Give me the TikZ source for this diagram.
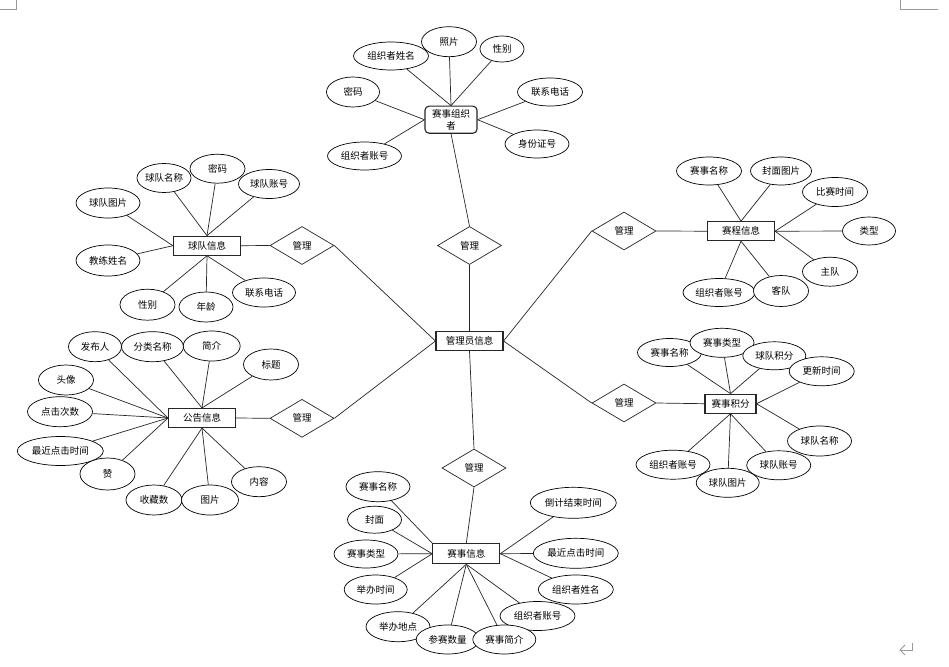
\documentclass[tikz,border=0pt]{standalone}
\usepackage{fontspec}
\newfontfamily\cjk{Noto Sans CJK SC}
\usetikzlibrary{shapes.geometric,backgrounds}
\tikzset{
  every node/.style={font=\cjk\fontsize{9.5}{11.5}\selectfont, inner sep=0pt},
  attr/.style={ellipse, draw=black, line width=0.7pt, fill=white},
  ent/.style={rectangle, draw=black!85, line width=1.1pt, fill=white, minimum width=67pt, minimum height=19pt},
  rel/.style={diamond, draw=black!85, line width=0.7pt, fill=white, minimum width=64pt, minimum height=38pt},
  link/.style={draw=black!85, line width=0.7pt},
  pagemark/.style={draw=black!40, line width=0.8pt}
}
\newcommand\attnode[5]{\node[attr, minimum width=#4pt, minimum height=#5pt] (#1) at (#2) {#3};}
\begin{document}
\begin{tikzpicture}[x=1pt,y=-1pt]
\useasboundingbox (0,0) rectangle (949,666);

% central entity and relations
\node[ent] (adm) at (469.5,341) {管理员信息};
\node[rel] (r1) at (469.5,245.5) {管理};
\node[rel] (r2) at (302,245.5) {管理};
\node[rel] (r3) at (302,418.3) {管理};
\node[rel] (r4) at (474,468) {管理};
\node[rel] (r5) at (624,231) {管理};
\node[rel] (r6) at (624,403) {管理};

% organizer
\node[rectangle, rounded corners=4pt, draw=black!85, line width=1.1pt, fill=white, minimum width=52pt, minimum height=27pt, align=center] (org) at (451,119.7) {赛事组织\\者};
\attnode{o1}{391,56}{组织者姓名}{75}{28}
\attnode{o2}{449,41.7}{照片}{55}{30}
\attnode{o3}{502,49}{性别}{44}{26}
\attnode{o4}{353,92}{密码}{53}{30}
\attnode{o5}{550,92}{联系电话}{65}{28}
\attnode{o6}{537,144}{身份证号}{64}{28}
\attnode{o7}{364.5,156}{组织者账号}{74}{28}

% team
\node[ent] (team) at (207,245.7) {球队信息};
\attnode{t1}{164,178}{球队名称}{54}{29}
\attnode{t2}{217.5,168.7}{密码}{55}{29}
\attnode{t3}{269,184}{球队账号}{61}{29}
\attnode{t4}{108,203}{球队图片}{64}{30}
\attnode{t5}{108,260.5}{教练姓名}{64}{31}
\attnode{t6}{147.5,304.7}{性别}{55}{31}
\attnode{t7}{206,307}{年龄}{54}{30}
\attnode{t8}{264,292.5}{联系电话}{63}{29}

% schedule
\node[ent] (sch) at (741,231.2) {赛程信息};
\attnode{s1}{709,171}{赛事名称}{65}{28}
\attnode{s2}{781,171}{封面图片}{61}{28}
\attnode{s3}{835,192}{比赛时间}{65}{29}
\attnode{s4}{869,231}{类型}{53}{28}
\attnode{s5}{830,271.7}{主队}{55}{29}
\attnode{s6}{719,292.5}{组织者账号}{72}{28}
\attnode{s7}{781,291}{客队}{55}{31}

% announcement
\node[ent] (ann) at (202,418) {公告信息};
\attnode{a1}{95,346.7}{发布人}{53}{30}
\attnode{a2}{152.5,346.7}{分类名称}{62}{30}
\attnode{a3}{211.7,346}{简介}{57}{30}
\attnode{a4}{271,364.5}{标题}{55}{31}
\attnode{a5}{66,380}{头像}{55}{30}
\attnode{a6}{60,411.7}{点击次数}{65}{30}
\attnode{a7}{60.3,451}{最近点击时间}{86}{29}
\attnode{a8}{107.5,474}{赞}{55}{32}
\attnode{a9}{154,500}{收藏数}{56}{30}
\attnode{a10}{210,500}{图片}{57}{30}
\attnode{a11}{259,481.7}{内容}{55}{30}

% score
\node[ent, minimum width=51pt] (sc) at (730.5,403.7) {赛事积分};
\attnode{c1}{669.5,352.5}{赛事名称}{64}{28}
\attnode{c2}{722,342.8}{赛事类型}{64}{29}
\attnode{c3}{774.3,355.8}{球队积分}{63}{28}
\attnode{c4}{821.7,371.3}{更新时间}{65}{29}
\attnode{c5}{819.5,441}{球队名称}{64}{30}
\attnode{c6}{673,464.7}{组织者账号}{74}{29}
\attnode{c8}{727.7,482.8}{球队图片}{63}{29}
\attnode{c7}{778.7,465.3}{球队账号}{64}{29}

% event
\node[ent, minimum height=20pt] (ev) at (466.3,553.7) {赛事信息};
\attnode{e1}{378,486.7}{赛事名称}{64}{30}
\attnode{e2}{374.5,519.7}{封面}{54}{27}
\attnode{e3}{366,554}{赛事类型}{64}{28}
\attnode{e4}{375.7,589.5}{举办时间}{63}{29}
\attnode{e5}{398,626.7}{举办地点}{64}{30}
\attnode{e6}{447.7,639.5}{参赛数量}{63}{29}
\attnode{e8}{537.5,616}{组织者账号}{75}{29}
\attnode{e7}{504.3,639.5}{赛事简介}{63}{29}
\attnode{e9}{575.8,589.5}{组织者姓名}{75}{29}
\attnode{e10}{575.8,553.3}{最近点击时间}{85}{30}
\attnode{e11}{573.3,502.8}{倒计结束时间}{86}{31}

% page marks
\coordinate (m1) at (16,0); \coordinate (m2) at (16,9); \coordinate (m3) at (0,9);
\coordinate (m4) at (900,0); \coordinate (m5) at (900,9); \coordinate (m6) at (938,9);
\draw[pagemark] (m1) -- (m2) -- (m3);
\draw[pagemark] (m4) -- (m5) -- (m6);
\coordinate (p1) at (912.7,642.5); \coordinate (p2) at (912.7,650); \coordinate (p3) at (900,650);
\coordinate (p4) at (905,645); \coordinate (p5) at (905,655);
\draw[pagemark, line width=0.9pt] (p1) -- (p2) -- (p3);
\draw[pagemark, line width=0.9pt] (p4) -- (p3) -- (p5);

\begin{scope}[on background layer]
\fill[white] (0,0) rectangle (949,666);
% central links
\draw[link] (adm.north) -- (r1.south);
\draw[link] (r1.north) -- (org.south);
\draw[link] (adm.west) -- (r2.east);
\draw[link] (r2.west) -- (team.east);
\draw[link] (adm.west) -- (r3.east);
\draw[link] (r3.west) -- (ann.east);
\draw[link] (adm.south) -- (r4.north);
\draw[link] (r4.south) -- (ev.north);
\draw[link] (adm.east) -- (r5.west);
\draw[link] (r5.east) -- (sch.west);
\draw[link] (adm.east) -- (r6.west);
\draw[link] (r6.east) -- (sc.west);
% organizer
\foreach \n in {o1,o2,o3} \draw[link] (\n) -- (org.north);
\foreach \n in {o4,o7} \draw[link] (\n) -- (org.west);
\foreach \n in {o5,o6} \draw[link] (\n) -- (org.east);
% team
\foreach \n in {t1,t2,t3} \draw[link] (\n) -- (team.north);
\foreach \n in {t4,t5} \draw[link] (\n) -- (team.west);
\foreach \n in {t6,t7,t8} \draw[link] (\n) -- (team.south);
% schedule
\foreach \n in {s1,s2} \draw[link] (\n) -- (sch.north);
\foreach \n in {s3,s4,s5} \draw[link] (\n) -- (sch.east);
\foreach \n in {s6,s7} \draw[link] (\n) -- (sch.south);
% announcement
\foreach \n in {a2,a3,a4} \draw[link] (\n) -- (ann.north);
\foreach \n in {a1,a5,a6,a7,a8} \draw[link] (\n) -- (ann.west);
\foreach \n in {a9,a10,a11} \draw[link] (\n) -- (ann.south);
% score
\foreach \n in {c1,c2,c3} \draw[link] (\n) -- (sc.north);
\foreach \n in {c4,c5} \draw[link] (\n) -- (sc.east);
\foreach \n in {c6,c7,c8} \draw[link] (\n) -- (sc.south);
% event
\draw[link] (e1) -- (ev.north west);
\foreach \n in {e2,e3,e4} \draw[link] (\n) -- (ev.west);
\foreach \n in {e5,e6,e7,e8} \draw[link] (\n) -- (ev.south);
\foreach \n in {e9,e10,e11} \draw[link] (\n) -- (ev.east);
\end{scope}
\end{tikzpicture}
\end{document}
